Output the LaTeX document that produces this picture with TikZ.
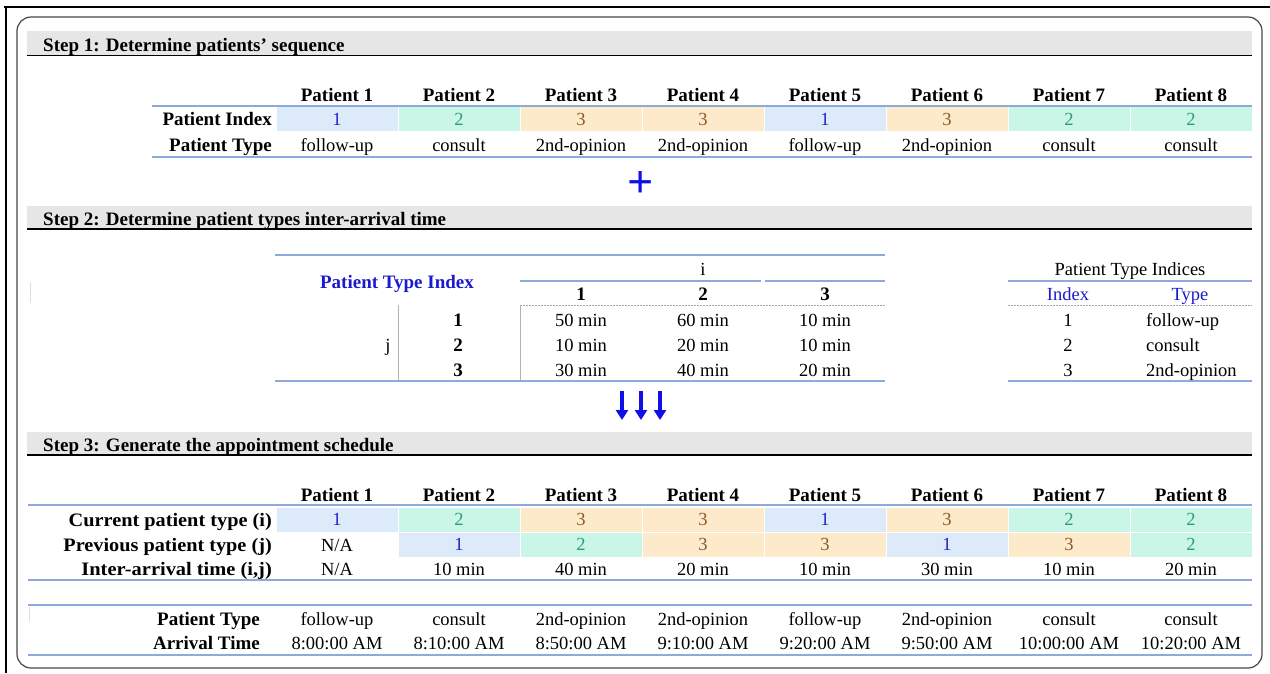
\documentclass[tikz,border=0pt]{standalone}
\usepackage{fontspec}
\usepackage{graphicx}
\setmainfont{Liberation Serif}
\usetikzlibrary{arrows.meta}
\definecolor{fA}{HTML}{DDEAF9}
\definecolor{tA}{HTML}{2222CC}
\definecolor{fB}{HTML}{C9F6E6}
\definecolor{tB}{HTML}{2E9E6E}
\definecolor{fC}{HTML}{FDEACB}
\definecolor{tC}{HTML}{8A5A2A}
\definecolor{rulec}{HTML}{8EAADB}
\definecolor{barfill}{HTML}{E6E6E6}
\definecolor{idxblue}{HTML}{1A1AD0}
\definecolor{arrblue}{HTML}{1010E6}
\begin{document}
\begin{tikzpicture}[x=1pt,y=-1pt,
  txt/.style={font=\fontsize{18.5}{22}\selectfont, text height=15pt, text depth=3pt, inner sep=0pt},
  bold/.style={txt, font=\fontsize{19}{22}\selectfont\bfseries},
  cell/.style={txt, minimum width=121pt, minimum height=24pt},
  t1/.style={fill=fA, text=tA},
  t2/.style={fill=fB, text=tB},
  t3/.style={fill=fC, text=tC},
  rulel/.style={draw=rulec, line width=1.6pt},
  dashl/.style={draw=gray!70, dash pattern=on 2pt off 1pt, line width=0.6pt},
  vline/.style={draw=gray!60, line width=0.8pt},
  barline/.style={draw=black, line width=1.5pt},
  bigarrow/.style={draw=arrblue, line width=3.2pt, -{Triangle[length=10pt,width=12pt]}}
]
\useasboundingbox (0,0) rectangle (1270,673);
% outer frame
\draw[line width=2.5pt] (4,7) -- (1270,7);
\draw[line width=2.5pt] (6,6) -- (6,673);
\draw[draw=gray!55!black, line width=1.2pt, rounded corners=14pt] (17,17) rectangle (1262,668);
\draw[gray!25, line width=1pt] (30,282) -- (30,303);
\draw[gray!25, line width=1pt] (29,607) -- (29,621);

% ---------- Step 1 ----------
\fill[barfill] (27,31) rectangle (1252,55);
\draw[barline] (27,55.5) -- (1252,55.5);
\node[bold, anchor=west] (h1) at (43,45) {Step 1: Determine patients’ sequence};
\foreach \k in {1,...,8}
  \node[bold] (s1p\k) at ({337+122*(\k-1)},95) {Patient \k};
\draw[rulel] (152,106) -- (1252,106);
\node[bold, anchor=east] (s1l1) at (272,119) {Patient Index};
\node[bold, anchor=east] (s1l2) at (272,145) {Patient Type};
\foreach \t [count=\k] in {1,2,3,3,1,3,2,2}
  \node[cell, t\t] (s1i\k) at ({337+122*(\k-1)},119) {\t};
\foreach \n [count=\k] in {follow-up,consult,2nd-opinion,2nd-opinion,follow-up,2nd-opinion,consult,consult}
  \node[txt] (s1t\k) at ({337+122*(\k-1)},145) {\n};
\draw[rulel] (152,157) -- (1252,157);
\node[text=arrblue, inner sep=0pt, font=\fontsize{46}{46}\selectfont\bfseries] (plus) at (641,185) {+};

% ---------- Step 2 ----------
\fill[barfill] (27,206) rectangle (1252,228.5);
\draw[barline] (27,229) -- (1252,229);
\node[bold, anchor=west] (h2) at (43,219) {Step 2: Determine patient types inter-arrival time};
\draw[rulel] (275,255) -- (885,255);
\node[bold, text=idxblue] (pti) at (397,282) {Patient Type Index};
\node[txt] (ii) at (703,269) {i};
\draw[rulel, line width=1.1pt] (520,281) -- (761,281);
\draw[rulel, line width=1.1pt] (765,281) -- (885,281);
\foreach \k in {1,2,3}
  \node[bold] (c\k) at ({581+122*(\k-1)},294) {\k};
\draw[dashl] (520,305) -- (885,305);
\draw[vline] (398,305) -- (398,381);
\draw[vline] (520,305) -- (520,381);
\node[txt] (jj) at (388,345) {j};
\foreach \k in {1,2,3}
  \node[bold] (r\k) at (458,{320+25*(\k-1)}) {\k};
\foreach \a/\b/\c [count=\k] in {50/60/10,10/20/10,30/40/20} {
  \node[txt] (v\k a) at (581,{320+25*(\k-1)}) {\a{} min};
  \node[txt] (v\k b) at (703,{320+25*(\k-1)}) {\b{} min};
  \node[txt] (v\k c) at (825,{320+25*(\k-1)}) {\c{} min};
}
\draw[rulel] (275,381) -- (885,381);
% right table
\node[txt] (ptis) at (1130,269) {Patient Type Indices};
\draw[rulel, line width=1.3pt] (1008,281) -- (1252,281);
\node[txt, text=idxblue] (ix) at (1068,294) {Index};
\node[txt, text=idxblue] (ty) at (1190,294) {Type};
\draw[dashl] (1008,305) -- (1252,305);
\foreach \n [count=\k] in {follow-up,consult,2nd-opinion} {
  \node[txt] (ri\k) at (1068,{320+25*(\k-1)}) {\k};
  \node[txt, anchor=west] (rt\k) at (1146,{320+25*(\k-1)}) {\n};
}
\draw[rulel] (1008,381) -- (1252,381);
% arrows
\foreach \k/\x in {1/622,2/641,3/660} {
  \coordinate (as\k) at (\x,391);
  \coordinate (ae\k) at (\x,420);
  \draw[bigarrow] (as\k) -- (ae\k);
}

% ---------- Step 3 ----------
\fill[barfill] (27,432) rectangle (1252,454.5);
\draw[barline] (27,455) -- (1252,455);
\node[bold, anchor=west] (h3) at (43,445) {Step 3: Generate the appointment schedule};
\foreach \k in {1,...,8}
  \node[bold] (s3p\k) at ({337+122*(\k-1)},495) {Patient \k};
\draw[rulel] (28,505) -- (1252,505);
\node[bold, anchor=east] (s3l1) at (272,520) {\scalebox{1.068}[1]{Current patient type (i)}};
\node[bold, anchor=east] (s3l2) at (272,545) {\scalebox{1.066}[1]{Previous patient type (j)}};
\node[bold, anchor=east] (s3l3) at (272,569) {\scalebox{1.075}[1]{Inter-arrival time (i,j)}};
\foreach \t [count=\k] in {1,2,3,3,1,3,2,2}
  \node[cell, t\t] (s3i\k) at ({337+122*(\k-1)},519.5) {\t};
\node[txt] (s3j1) at (337,545) {N/A};
\foreach \t [count=\k from 2] in {1,2,3,3,1,3,2}
  \node[cell, t\t] (s3j\k) at ({337+122*(\k-1)},544.5) {\t};
\node[txt] (s3m1) at (337,569) {N/A};
\foreach \m [count=\k from 2] in {10,40,20,10,30,10,20}
  \node[txt] (s3m\k) at ({337+122*(\k-1)},569) {\m{} min};
\draw[rulel] (28,580) -- (1252,580);
\draw[rulel] (28,605) -- (1252,605);
\node[bold, anchor=east] (s3l4) at (260,619) {Patient Type};
\node[bold, anchor=east] (s3l5) at (260,643) {Arrival Time};
\foreach \n [count=\k] in {follow-up,consult,2nd-opinion,2nd-opinion,follow-up,2nd-opinion,consult,consult}
  \node[txt] (s3t\k) at ({337+122*(\k-1)},619) {\n};
\foreach \n [count=\k] in {8:00:00 AM,8:10:00 AM,8:50:00 AM,9:10:00 AM,9:20:00 AM,9:50:00 AM,10:00:00 AM,10:20:00 AM}
  \node[txt] (s3a\k) at ({337+122*(\k-1)},643) {\n};
\draw[rulel] (28,655) -- (1252,655);
\end{tikzpicture}
\end{document}
